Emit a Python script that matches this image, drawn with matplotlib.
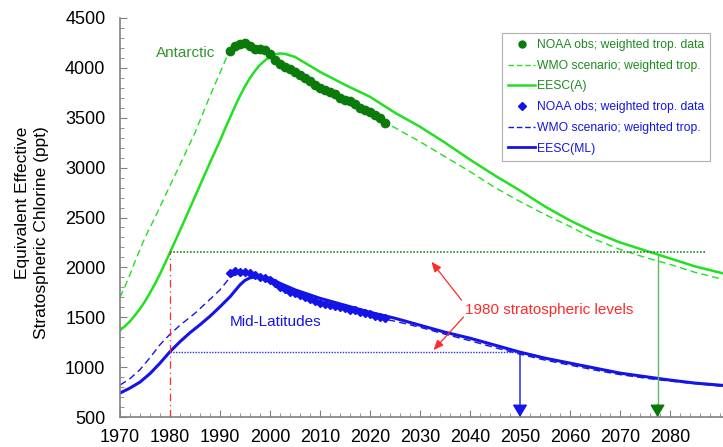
import matplotlib
matplotlib.use("Agg")
import matplotlib.pyplot as plt
from matplotlib.lines import Line2D
from matplotlib.ticker import MultipleLocator

plt.rcParams['font.family'] = ['Liberation Sans', 'DejaVu Sans']

# EESC Antarctica (A)
anos_eesc_a = [1970, 1971, 1972, 1973, 1974, 1975, 1976, 1977, 1978, 1979, 1980, 1982, 1985, 1988,
               1990, 1991, 1992, 1993, 1994, 1995, 1996, 1997, 1998, 1999, 2000, 2001, 2002, 2003,
               2005, 2010, 2015, 2020, 2025, 2030, 2035, 2040, 2045, 2050, 2055, 2060, 2065, 2070,
               2075, 2080, 2085, 2091]
eesc_a = [1370, 1410, 1460, 1520, 1585, 1660, 1745, 1835, 1935, 2040, 2150, 2370, 2710, 3050,
          3270, 3390, 3500, 3615, 3720, 3815, 3900, 3970, 4030, 4075, 4110, 4135, 4145, 4140,
          4110, 3960, 3830, 3710, 3550, 3410, 3250, 3080, 2920, 2770, 2610, 2470, 2350, 2250,
          2170, 2090, 2010, 1935]

anos_wmo_a = [1970, 1971, 1972, 1973, 1974, 1975, 1977, 1980, 1982, 1985, 1988, 1990, 1991, 1992,
              1995, 2000, 2005, 2010, 2015, 2020, 2023, 2025, 2030, 2035, 2040, 2045, 2050, 2055,
              2060, 2065, 2070, 2075, 2080, 2085, 2091]
wmo_a = [1700, 1810, 1930, 2060, 2180, 2300, 2500, 2820, 3030, 3350, 3720, 3950, 4070, 4170,
         4240, 4130, 3960, 3800, 3680, 3560, 3450, 3400, 3260, 3110, 2960, 2800, 2660, 2530,
         2410, 2280, 2180, 2100, 2030, 1950, 1875]

# EESC mid-latitudes (ML)
anos_eesc_ml = [1970, 1972, 1974, 1976, 1978, 1980, 1982, 1984, 1986, 1988, 1990, 1992, 1993, 1994,
                1995, 1996, 1997, 1998, 2000, 2002, 2005, 2010, 2015, 2020, 2025, 2030, 2035, 2040,
                2045, 2050, 2055, 2060, 2065, 2070, 2075, 2080, 2085, 2091]
eesc_ml = [740, 790, 850, 935, 1040, 1155, 1255, 1345, 1425, 1510, 1605, 1705, 1765, 1825,
           1870, 1895, 1905, 1905, 1890, 1840, 1775, 1690, 1620, 1550, 1490, 1420, 1350, 1290,
           1220, 1150, 1090, 1040, 990, 940, 905, 870, 840, 815]

anos_wmo_ml = [1970, 1972, 1974, 1976, 1978, 1980, 1982, 1985, 1988, 1990, 1992, 1994, 1998, 2002,
               2006, 2010, 2015, 2020, 2023, 2025, 2030, 2035, 2040, 2045, 2050, 2055, 2060, 2065,
               2070, 2075, 2080, 2085, 2091]
wmo_ml = [820, 885, 975, 1095, 1225, 1330, 1420, 1540, 1680, 1775, 1900, 1950, 1905, 1805,
          1720, 1645, 1590, 1530, 1480, 1460, 1400, 1330, 1265, 1195, 1130, 1070, 1020, 970,
          925, 890, 860, 835, 805]

# observacoes NOAA
anos_noaa = list(range(1992, 2024))
noaa_a = [4170, 4220, 4240, 4245, 4215, 4190, 4190, 4180, 4140, 4080, 4040, 4010, 3990, 3960,
          3930, 3900, 3870, 3830, 3800, 3780, 3760, 3740, 3700, 3680, 3670, 3640, 3600, 3580,
          3560, 3530, 3500, 3450]
noaa_ml = [1943, 1960, 1955, 1950, 1940, 1925, 1905, 1890, 1875, 1840, 1805, 1780, 1755, 1740,
           1720, 1700, 1680, 1660, 1645, 1630, 1620, 1610, 1600, 1590, 1575, 1570, 1555, 1540,
           1530, 1515, 1500, 1490]

# niveis de 1980 e anos de retorno
nivel_1980_a = 2150
nivel_1980_ml = 1155
retorno_a = 2077.5
retorno_ml = 2050

verde = '#22e022'
verde_esc = '#0a7a0a'
verde_txt = '#2f962f'
azul = '#1414e6'
vermelho = '#ff2a2a'

fig = plt.figure(figsize=(7.23, 4.47), dpi=100)
ax = fig.add_axes([120 / 723, 30 / 447, 603 / 723, 399 / 447])

ax.plot(anos_wmo_a, wmo_a, color=verde, lw=1.0, dashes=(5, 3))
ax.plot(anos_eesc_a, eesc_a, color=verde, lw=1.8)
ax.plot(anos_noaa, noaa_a, 'o', color=verde_esc, ms=6, mec=verde_esc)

ax.plot(anos_wmo_ml, wmo_ml, color=azul, lw=1.0, dashes=(5, 3))
ax.plot(anos_eesc_ml, eesc_ml, color=azul, lw=2.2)
ax.plot(anos_noaa, noaa_ml, 'D', color=azul, ms=4.5, mec=azul)

# linhas de referencia 1980
ax.plot([1980, 2087], [nivel_1980_a, nivel_1980_a], color='#1f8a1f', lw=1.2, ls=(0, (1, 1)))
ax.plot([1980, retorno_ml], [nivel_1980_ml, nivel_1980_ml], color='#2a2aff', lw=1.0, ls=(0, (1, 1)))
ax.plot([1980, 1980], [500, nivel_1980_a], color=vermelho, lw=0.9, ls=(0, (6, 3, 1, 3)))

# setas de retorno
ax.plot([retorno_a, retorno_a], [500, nivel_1980_a - 40], color='#5cb85c', lw=1.0)
ax.annotate('', xy=(retorno_a, 500), xytext=(retorno_a, 620),
            arrowprops=dict(arrowstyle='-|>,head_width=0.45,head_length=0.75', color='#087808',
                            lw=1.0, shrinkA=0, shrinkB=0), annotation_clip=False)
ax.annotate('', xy=(retorno_ml, 500), xytext=(retorno_ml, nivel_1980_ml - 20),
            arrowprops=dict(arrowstyle='-|>,head_width=0.45,head_length=0.75', color=azul,
                            lw=1.0, shrinkA=0, shrinkB=0), annotation_clip=False)

ax.text(2055.8, 1572, '1980 stratospheric levels', color=vermelho, fontsize=11,
        ha='center', va='center')
ax.annotate('', xy=(2032.3, 2056), xytext=(2038.3, 1672),
            arrowprops=dict(arrowstyle='-|>,head_width=0.25,head_length=0.6', color=vermelho,
                            lw=0.9, shrinkA=0, shrinkB=0))
ax.annotate('', xy=(2032.7, 1171), xytext=(2038.7, 1502),
            arrowprops=dict(arrowstyle='-|>,head_width=0.25,head_length=0.6', color=vermelho,
                            lw=0.9, shrinkA=0, shrinkB=0))

ax.text(1983.2, 4147, 'Antarctic', color=verde_txt, fontsize=11, ha='center', va='center')
ax.text(2001.2, 1452, 'Mid-Latitudes', color=azul, fontsize=11, ha='center', va='center')

ax.set_xlim(1970, 2090.6)
ax.set_ylim(500, 4500)
ax.set_xticks(range(1970, 2090, 10))
ax.xaxis.set_minor_locator(MultipleLocator(2))
ax.yaxis.set_major_locator(MultipleLocator(500))
ax.yaxis.set_minor_locator(MultipleLocator(100))
ax.tick_params(which='both', direction='in', color='#808080', labelsize=13)
ax.tick_params(axis='x', pad=9)
ax.tick_params(axis='y', pad=10.5)
ax.tick_params(which='major', length=5)
ax.tick_params(which='minor', length=3)
for lado in ['top', 'right']:
    ax.spines[lado].set_visible(False)
for lado in ['left', 'bottom']:
    ax.spines[lado].set_color('#808080')
    ax.spines[lado].set_linewidth(1.2)

fig.text(32 / 723, 1 - 233 / 447, 'Equivalent Effective\nStratospheric Chlorine (ppt)',
         rotation=90, fontsize=12.5, ha='center', va='center', multialignment='right',
         linespacing=1.35)

# legenda
handles = [
    Line2D([], [], ls='none', marker='o', color=verde_esc, ms=5),
    Line2D([], [], color=verde, lw=1.0, dashes=(4, 2)),
    Line2D([], [], color=verde, lw=1.8),
    Line2D([], [], ls='none', marker='D', color=azul, ms=4),
    Line2D([], [], color=azul, lw=1.0, dashes=(4, 2)),
    Line2D([], [], color=azul, lw=2.0),
]
labels = ['NOAA obs; weighted trop. data', 'WMO scenario; weighted trop.', 'EESC(A)',
          'NOAA obs; weighted trop. data', 'WMO scenario; weighted trop.', 'EESC(ML)']
leg = ax.legend(handles, labels, loc='upper right', bbox_to_anchor=(710 / 723, 1 - 33 / 447),
                bbox_transform=fig.transFigure, fontsize=8.7, frameon=True, fancybox=False,
                edgecolor='#b0b0b0', framealpha=1, handlelength=2.2, handletextpad=0.15,
                labelspacing=0.72, borderpad=0.5, borderaxespad=0)
leg.get_frame().set_linewidth(0.8)
for i, txt in enumerate(leg.get_texts()):
    txt.set_color('#1f8a1f' if i < 3 else azul)

fig.savefig('out.png', dpi=100)
